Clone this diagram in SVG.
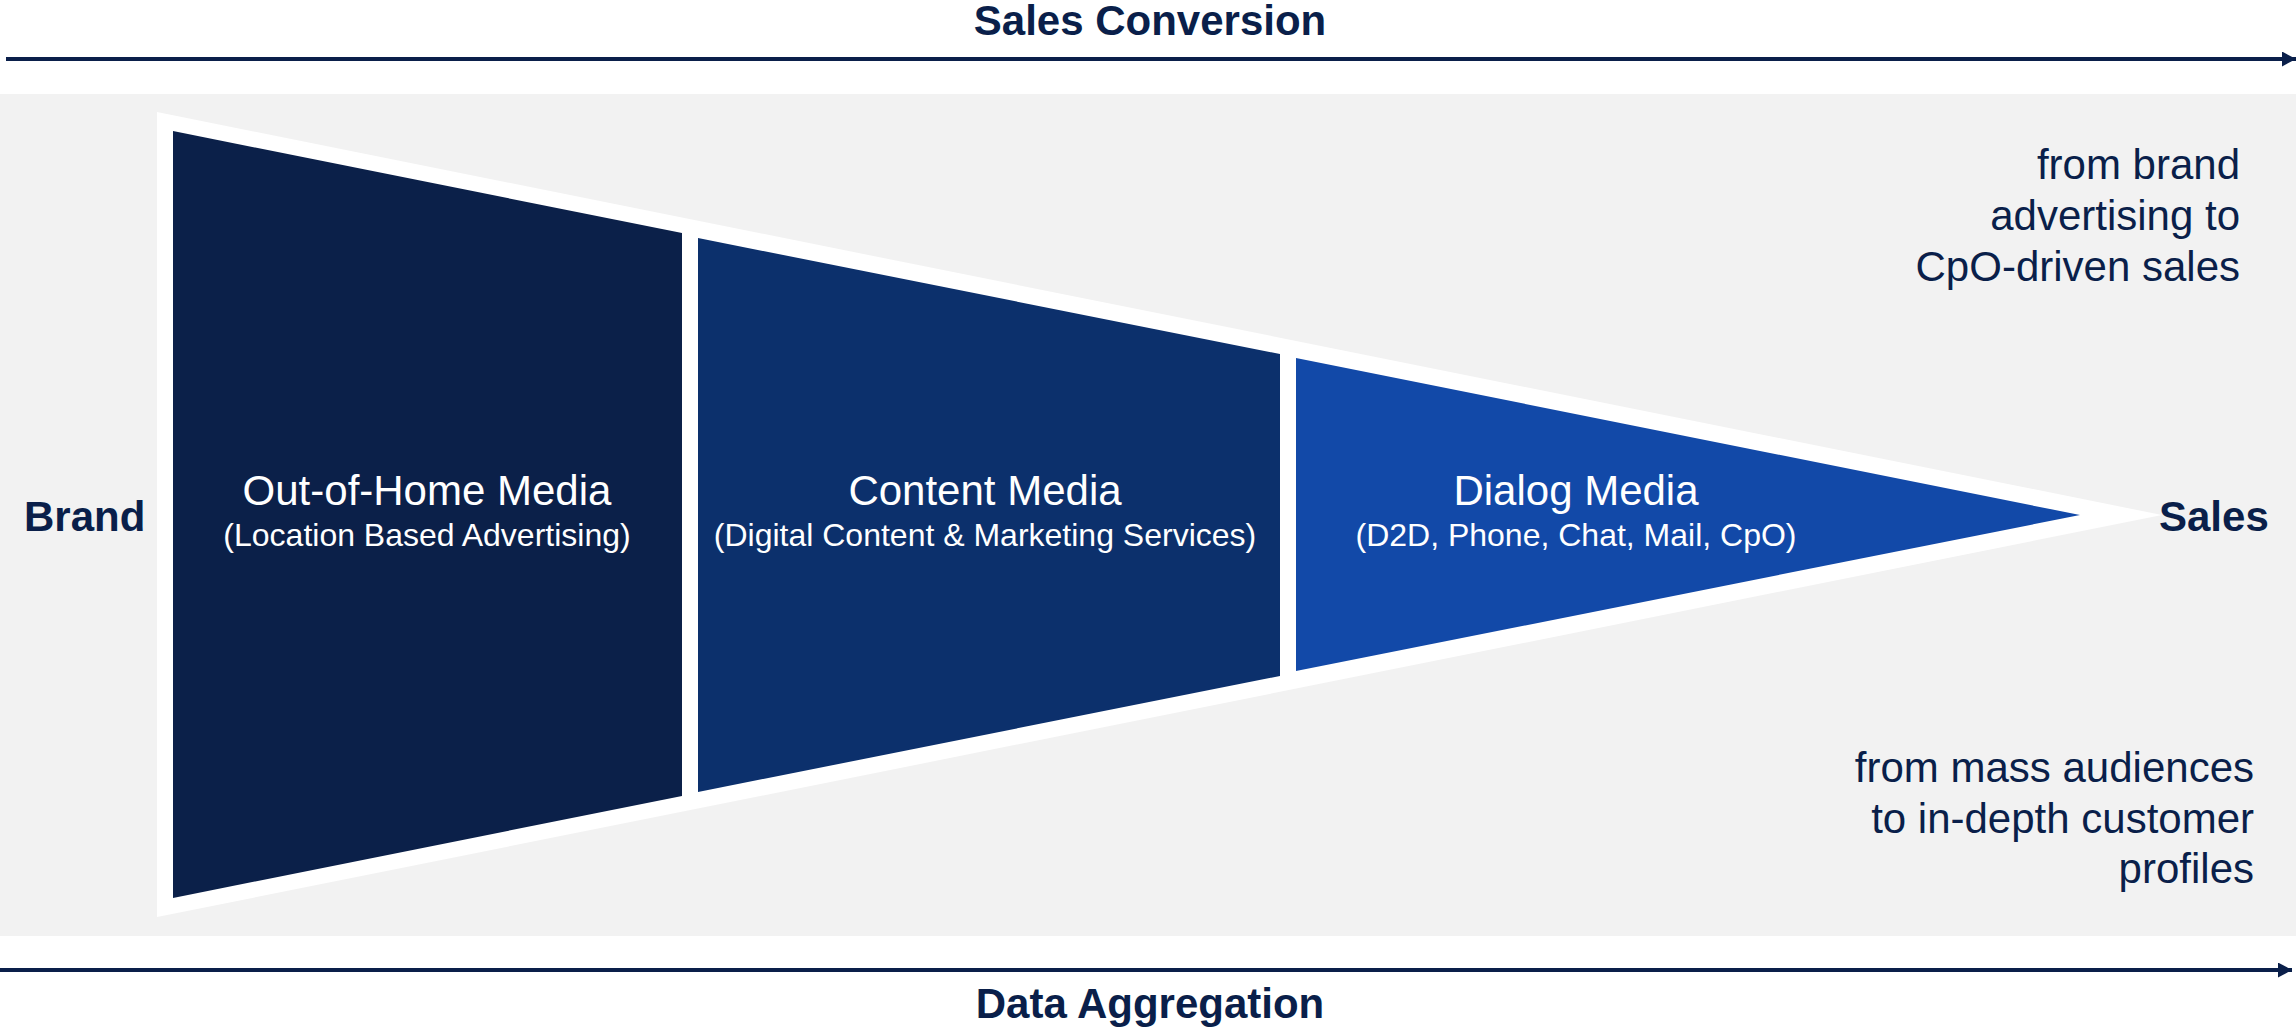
<svg xmlns="http://www.w3.org/2000/svg" width="2296" height="1032" viewBox="0 0 2296 1032">
<defs>
<style>
.lbl{font-family:"Liberation Sans",Arial,sans-serif;fill:#0a1f4a}
.b{font-weight:bold;font-size:42px}
.side{font-size:42px;text-anchor:end}
.wt{font-family:"Liberation Sans",Arial,sans-serif;fill:#ffffff;text-anchor:middle}
.t1{font-size:42px}
.t2{font-size:32px}
.axis{stroke:#0a1f4a;stroke-width:4;fill:none}
</style>
<marker id="ah" markerUnits="userSpaceOnUse" markerWidth="15" markerHeight="16" refX="14" refY="7.5" orient="auto">
<path d="M0,0 L14,7.5 L0,15 Z" fill="#0a1f4a"/>
</marker>
</defs>
<rect x="0" y="0" width="2296" height="1032" fill="#ffffff"/>
<rect id="bg-panel" x="0" y="94" width="2296" height="842" fill="#f2f2f2"/>
<g id="funnel-outline">
<polygon points="157,112 2162,515 157,917" fill="#ffffff"/>
</g>
<g id="node-ooh">
<polygon points="173,131 682,233 682,796 173,898" fill="#0b2049"/>
<text class="wt t1" x="427" y="505">Out-of-Home Media</text>
<text class="wt t2" x="427" y="546">(Location Based Advertising)</text>
</g>
<g id="node-content">
<polygon points="698,238 1280,354 1280,676 698,792" fill="#0c306c"/>
<text class="wt t1" x="985" y="505">Content Media</text>
<text class="wt t2" x="985" y="546">(Digital Content &amp; Marketing Services)</text>
</g>
<g id="node-dialog">
<polygon points="1296,358 2080,515 1296,671" fill="#1249a8"/>
<text class="wt t1" x="1576" y="505">Dialog Media</text>
<text class="wt t2" x="1576" y="546">(D2D, Phone, Chat, Mail, CpO)</text>
</g>
<g id="node-brand">
<text class="lbl b" x="24" y="531">Brand</text>
</g>
<g id="node-sales">
<text class="lbl b" x="2159" y="531">Sales</text>
</g>
<g id="node-top-note">
<text class="lbl side" x="2240" y="179">from brand</text>
<text class="lbl side" x="2240" y="230">advertising to</text>
<text class="lbl side" x="2240" y="281">CpO-driven sales</text>
</g>
<g id="node-bottom-note">
<text class="lbl side" x="2254" y="782">from mass audiences</text>
<text class="lbl side" x="2254" y="833">to in-depth customer</text>
<text class="lbl side" x="2254" y="883">profiles</text>
</g>
<g id="node-sales-conversion">
<text class="lbl b" x="1150" y="35" text-anchor="middle">Sales Conversion</text>
</g>
<g id="node-data-aggregation">
<text class="lbl b" x="1150" y="1018" text-anchor="middle">Data Aggregation</text>
</g>
<g id="connectors">
<line class="axis" x1="6" y1="59" x2="2296" y2="59" marker-end="url(#ah)"/>
<line class="axis" x1="0" y1="970" x2="2292" y2="970" marker-end="url(#ah)"/>
</g>
</svg>
